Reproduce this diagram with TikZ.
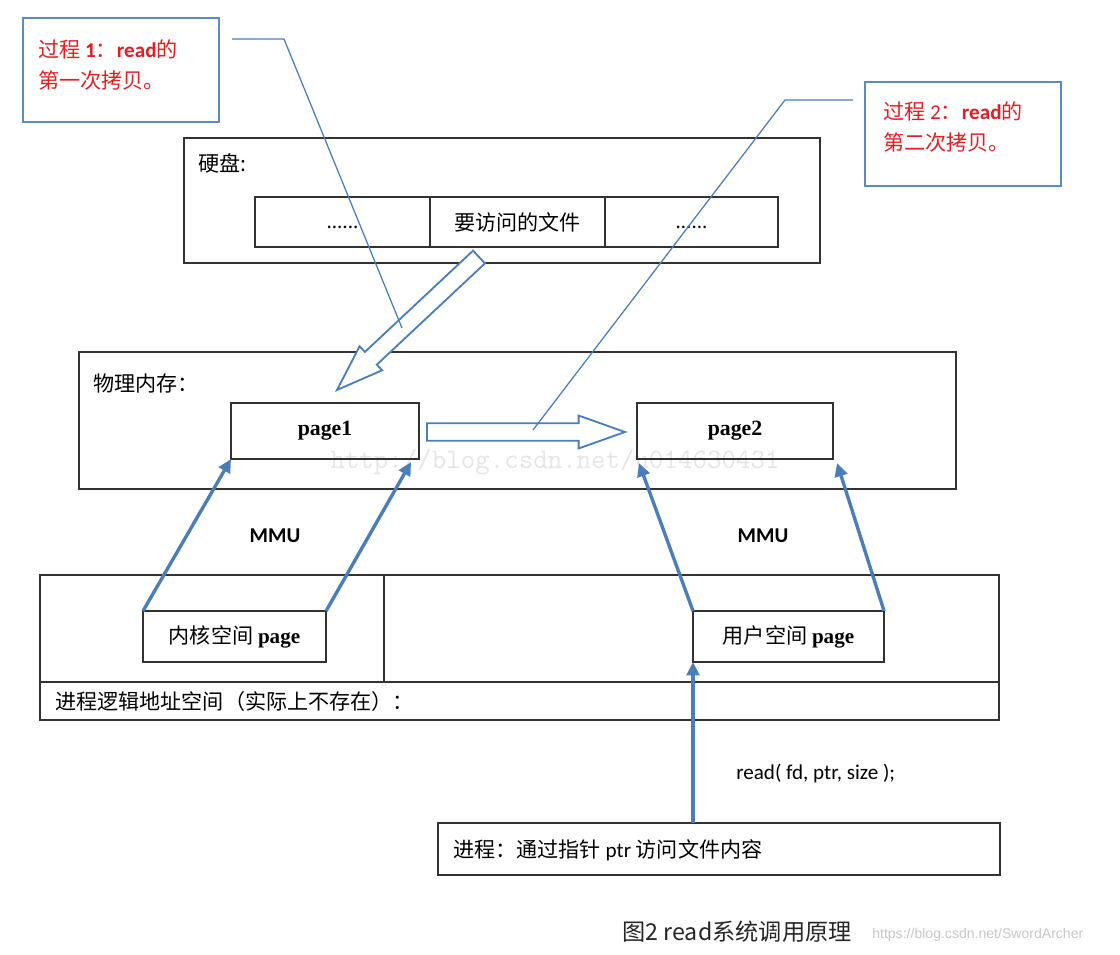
\documentclass[tikz,border=0pt]{standalone}
\usepackage{fontspec}
\setmainfont{Carlito}
\newfontfamily\cjk{Noto Sans CJK SC}
\newfontfamily\pagefont{Liberation Serif}
\newfontfamily\wmfont{Liberation Sans}
\usepackage{tikz}
\usetikzlibrary{arrows.meta}
\usetikzlibrary{calc}

\definecolor{lineblue}{RGB}{74,126,187}
\definecolor{notered}{RGB}{226,30,36}
\definecolor{boxgray}{RGB}{50,50,50}
\newcommand\bodysize{\fontsize{15pt}{18pt}\selectfont}

\tikzset{
  box/.style={draw=boxgray, line width=1.1pt, inner sep=0pt, outer sep=0pt, anchor=north west, font=\bodysize},
  pagebox/.style={box, minimum height=1.4cm, font=\pagefont\bfseries\fontsize{15.5pt}{18pt}\selectfont},
  note/.style={draw=lineblue!90, line width=1.5pt, inner sep=0pt, outer sep=0pt, anchor=north west, minimum width=4.9cm, minimum height=2.6cm},
  notetxt/.style={anchor=west, inner sep=0pt, align=left, text=notered, font=\fontsize{15pt}{22pt}\selectfont},
  txt/.style={anchor=west, inner sep=0pt, font=\bodysize},
  map/.style={draw=lineblue, line width=2.4pt, -{Triangle[length=9.5pt,width=9pt]}},
  lead/.style={draw=lineblue, line width=0.9pt},
  hollow/.style={draw=lineblue, line width=1.3pt, fill=white, line join=miter},
}

\begin{document}
\begin{tikzpicture}[x=0.025cm, y=-0.025cm]
\useasboundingbox (0,0) rectangle (1120,955);
\node[text=gray!20, inner sep=0pt, font=\ttfamily\fontsize{20pt}{20pt}\selectfont] (wm) at (555,462) {http://blog.csdn.net/u014630431};

% hard disk
\node[box, minimum width=15.9cm, minimum height=3.125cm] (disk) at (184,138) {};
\node[txt] (disklbl) at (198,163) {\cjk 硬盘:};
\node[box, minimum width=4.375cm, minimum height=1.25cm] (dots1) at (255,197) {\rule{0pt}{10pt}......};
\node[box, minimum width=4.375cm, minimum height=1.25cm] (file) at (430,197) {\cjk 要访问的文件};
\node[box, minimum width=4.325cm, minimum height=1.25cm] (dots2) at (605,197) {\rule{0pt}{10pt}......};

% physical memory
\node[box, minimum width=21.925cm, minimum height=3.425cm] (mem) at (79,352) {};
\node[txt] (memlbl) at (93,383) {\cjk 物理内存：};
\node[pagebox, minimum width=4.7cm] (page1) at (231,403) {page1};
\node[pagebox, minimum width=4.9cm] (page2) at (637,403) {page2};

\node[font=\bodysize\bfseries] (mmu1) at (275,536) {MMU};
\node[font=\bodysize\bfseries] (mmu2) at (763,536) {MMU};

% process logical address space
\node[box, minimum width=23.975cm, minimum height=3.625cm] (logic) at (40,575) {};
\node[box, minimum width=23.975cm, minimum height=0.95cm] (strip) at (40,682) {};
\draw[draw=boxgray, line width=1.1pt] (384,575) -- (384,682);
\node[txt] (logiclbl) at (55,701) {\cjk 进程逻辑地址空间（实际上不存在）：};
\node[box, minimum width=4.575cm, minimum height=1.275cm] (kpage) at (143,611) {{\cjk 内核空间} {\pagefont\bfseries page}};
\node[box, minimum width=4.775cm, minimum height=1.275cm] (upage) at (693,611) {{\cjk 用户空间} {\pagefont\bfseries page}};

% process
\node[box, minimum width=14.05cm, minimum height=1.3cm] (proc) at (438,823) {};
\node[txt] (proclbl) at (453,850) {{\cjk 进程：通过指针} ptr {\cjk 访问文件内容}};
\node[txt] (call) at (736,773) {read( fd, ptr, size );};

% copy arrows
\coordinate (t1) at (479,257);
\coordinate (h1) at (337,390);
\coordinate (t2) at (427,432);
\coordinate (h2) at (625,432);
\foreach \t/\h in {t1/h1, t2/h2}{
  \coordinate (b) at ($(\h)!33pt!(\t)$);
  \draw[hollow] ($(\t)!6.2pt!90:(\h)$) -- ($(b)!6.2pt!90:(\h)$) -- ($(b)!11.7pt!90:(\h)$) -- (\h)
    -- ($(b)!11.7pt!-90:(\h)$) -- ($(b)!6.2pt!-90:(\h)$) -- ($(\t)!6.2pt!-90:(\h)$) -- cycle;
}

% callouts
\node[note] (note1) at (23,18) {};
\node[notetxt] (note1txt) at (38,65) {{\cjk 过程 }\textbf{1}{\cjk ：}\textbf{read}{\cjk 的}\\{\cjk 第一次拷贝。}};
\node[note] (note2) at (865,82) {};
\node[notetxt] (note2txt) at (883,127) {{\cjk 过程 }2{\cjk ：}\textbf{read}{\cjk 的}\\{\cjk 第二次拷贝。}};
\coordinate (n1a) at (232,39);
\coordinate (n1b) at (284,39);
\coordinate (n1c) at (402,328);
\draw[lead] (n1a) -- (n1b) -- (n1c);
\coordinate (n2a) at (853,100);
\coordinate (n2b) at (785,100);
\coordinate (n2c) at (533,430);
\draw[lead] (n2a) -- (n2b) -- (n2c);

% mmu mapping
\draw[map] (kpage.north west) -- (page1.south west);
\draw[map] (kpage.north east) -- ($(page1.south east)+(-8,3)$);
\draw[map] (upage.north west) -- ($(page2.south west)+(2,4)$);
\draw[map] (upage.north east) -- ($(page2.south east)+(4,4)$);
\draw[map] (proc.north -| upage.south west) -- (upage.south west);

\node[font=\cjk\fontsize{16.5pt}{18pt}\selectfont, text=black!85] (cap) at (737,932) {图2 read系统调用原理};
\node[anchor=west, inner sep=0pt, text=gray!45, font=\wmfont\fontsize{10pt}{12pt}\selectfont] (wm2) at (872,935) {https://blog.csdn.net/SwordArcher};
\end{tikzpicture}
\end{document}
